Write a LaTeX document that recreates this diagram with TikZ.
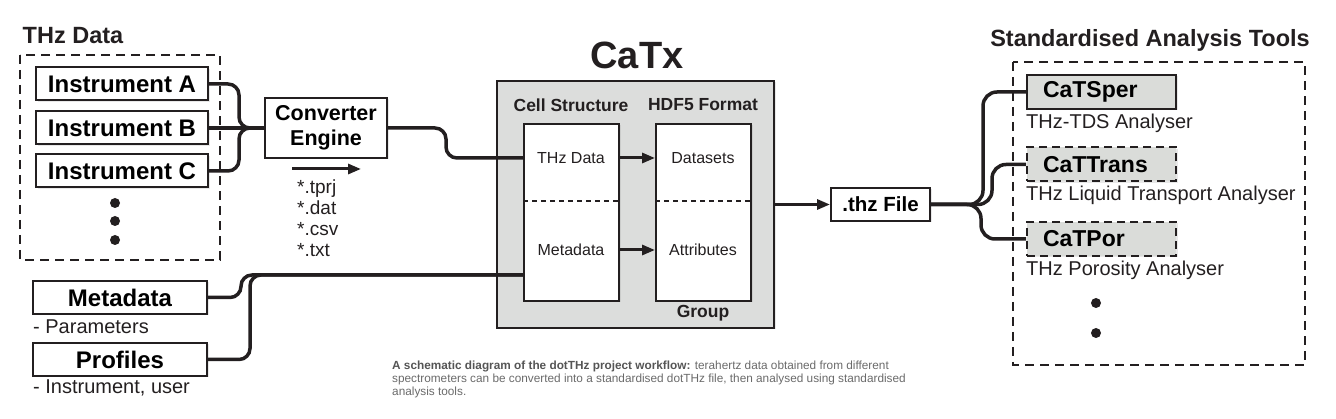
\documentclass[tikz,border=0pt]{standalone}
\usepackage{fontspec}
\setmainfont{Liberation Sans}
\usepackage{xcolor}
\usepackage{tikz}
\usetikzlibrary{arrows.meta,calc,positioning,shadows}
\definecolor{inkdark}{HTML}{231F20}
\definecolor{catxgray}{HTML}{DCDDDC}
\definecolor{toolgray}{HTML}{DADCD9}
\definecolor{capbold}{HTML}{555555}
\definecolor{captext}{HTML}{6A6A6A}
\newcommand{\fsz}[1]{\fontsize{#1}{#1}\selectfont}

\begin{document}
\begin{tikzpicture}[x=1pt,y=-1pt,
    box/.style={draw=inkdark,line width=2pt,fill=white,inner sep=0pt,
      drop shadow={opacity=0.18,shadow xshift=1.5pt,shadow yshift=-1.5pt}},
    instr/.style={box,minimum width=172pt,minimum height=33pt,font=\fsz{24}\bfseries},
    tool/.style={box,fill=toolgray,minimum width=149pt,minimum height=34pt,
      inner xsep=16pt,text width=117pt,align=left,font=\fsz{23}\bfseries},
    toolplan/.style={tool,dash pattern=on 8pt off 5pt},
    frame/.style={draw=inkdark,line width=1.6pt,dash pattern=on 9pt off 6pt},
    head/.style={font=\fsz{23.5}\bfseries,text=inkdark},
    sub/.style={font=\fsz{17.5}\bfseries,text=inkdark},
    inner/.style={font=\fsz{16},text=inkdark},
    note/.style={font=\fsz{20},text=inkdark,anchor=west,inner sep=0pt},
    wire/.style={draw=inkdark,line width=3.5pt,rounded corners=11pt},
    arr/.style={draw=inkdark,line width=3pt,-{Triangle[length=13pt,width=10pt]}}]
    \useasboundingbox (0,0) rectangle (1336,419);

    \node[head] (thzt) at (73,36) {THz Data};
    \draw[frame] (20,55) rectangle (220,260);
    \node[instr] (insA) at (122,84) {Instrument A};
    \node[instr] (insB) at (122,128) {Instrument B};
    \node[instr] (insC) at (122,171) {Instrument C};
    \foreach \y in {203,221,240}
      \fill[inkdark] (115,\y) circle (5pt);

    \node[box,minimum width=122pt,minimum height=60pt,align=center,
      font=\fontsize{21.5}{25}\selectfont\bfseries] (conv) at (326,128)
      {Converter\\Engine};
    \draw[arr] (292,169) -- (361,169);
    \foreach \ext [count=\i] in {tprj,dat,csv,txt}
      \node[font=\fsz{19},text=inkdark,anchor=base west,inner sep=0pt]
        (ext\i) at (297,173+21*\i) {*.\ext};

    \draw[wire] (insA.east) -- ++(30,0) |- (conv.west);
    \draw[wire] (insB.east) -- (conv.west);
    \draw[wire] (insC.east) -- ++(30,0) |- (conv.west);

    \node[font=\fsz{38}\bfseries,text=inkdark] (catxt) at (637,55) {CaTx};
    \node[box,fill=catxgray,minimum width=277pt,minimum height=247pt]
      (catx) at (635.5,204.5) {};
    \node[sub] (cellt) at (571,105) {Cell Structure};
    \node[sub] (hdft) at (703,105) {HDF5 Format};
    \node[box,minimum width=95pt,minimum height=177pt] (cell) at (571.5,212.5) {};
    \node[box,minimum width=95pt,minimum height=177pt] (hdf) at (703.5,212.5) {};
    \draw[inkdark,line width=1.2pt,dash pattern=on 5pt off 4pt]
      ([yshift=11.5pt]cell.west) -- ([yshift=11.5pt]cell.east);
    \draw[inkdark,line width=1.2pt,dash pattern=on 5pt off 4pt]
      ([yshift=11.5pt]hdf.west) -- ([yshift=11.5pt]hdf.east);
    \node[inner] (cdata) at (571,158) {THz Data};
    \node[inner] (cmeta) at (571,250) {Metadata};
    \node[inner] (hdata) at (703,158) {Datasets};
    \node[inner] (hattr) at (703,250) {Attributes};
    \draw[arr] (cdata -| cell.east) -- (hdata -| hdf.west);
    \draw[arr] (cmeta -| cell.east) -- (hattr -| hdf.west);
    \node[sub] (groupt) at (703,313) {Group};
    \coordinate (metain) at ([yshift=-62.5pt]cell.west);

    \draw[wire] (conv.east) -- ++(58,0) |- (cdata -| cell.west);

    \node[instr,minimum width=174pt] (meta) at (120,297.5) {Metadata};
    \node[note] (metan) at (33,327) {- Parameters};
    \node[instr,minimum width=174pt] (prof) at (120,359.5) {Profiles};
    \node[note] (profn) at (33,388) {- Instrument, user};
    \draw[wire] (meta.east) -- ++(33,0) |- (metain);
    \draw[wire] (prof.east) -- ++(42,0) |- (metain);

    \node[box,minimum width=99pt,minimum height=33pt,font=\fsz{20.5}\bfseries]
      (thz) at (880.5,204.5) {.thz File};
    \draw[arr] (catx.east) -- (thz.west);

    \node[head] (toolt) at (1150,40) {Standardised Analysis Tools};
    \draw[frame] (1013,62) rectangle (1305,365);
    \node[tool] (sper) at (1101.5,92) {CaTSper};
    \node[toolplan] (trans) at (1101.5,164.5) {CaTTrans};
    \node[toolplan] (por) at (1101.5,239) {CaTPor};
    \node[note] (spern) at (1026,123) {THz-TDS Analyser};
    \node[note] (transn) at (1026,195) {THz Liquid Transport Analyser};
    \node[note] (porn) at (1026,270) {THz Porosity Analyser};
    \foreach \y in {303,333}
      \fill[inkdark] (1096,\y) circle (5pt);

    \draw[wire,rounded corners=14pt] (thz.east) -- ++(52,0) |- (sper.west);
    \draw[wire,rounded corners=14pt] (thz.east) -- ++(61,0) |- (trans.west);
    \draw[wire,rounded corners=14pt] (thz.east) -- ++(50,0) |- (por.west);

    \node[anchor=north west,align=left,inner sep=0pt,text=captext,
      font=\fontsize{11.8}{13}\selectfont] (caption) at (392,361)
      {\textcolor{capbold}{\bfseries A schematic diagram of the dotTHz project workflow:}
       terahertz data obtained from different\\
       spectrometers can be converted into a standardised dotTHz file, then analysed using standardised\\
       analysis tools.};
  \end{tikzpicture}
\end{document}
